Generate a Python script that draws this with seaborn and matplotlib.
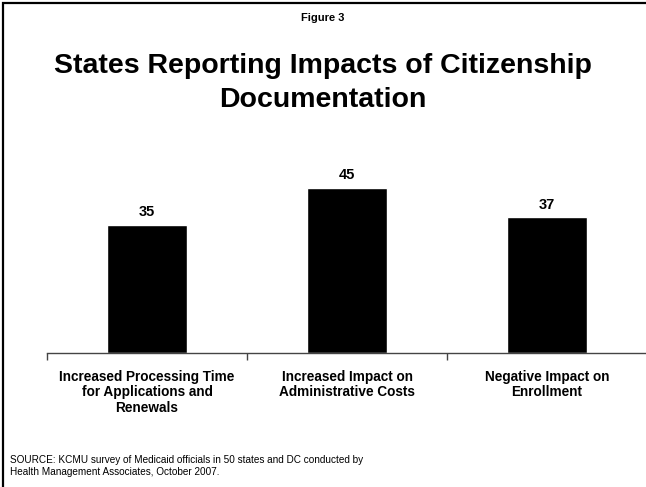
import matplotlib
matplotlib.use("Agg")
import matplotlib.pyplot as plt
import seaborn as sns
import pandas as pd
from matplotlib.patches import Rectangle

# Chart data
categories = [
    "Increased Processing Time\nfor Applications and\nRenewals",
    "Increased Impact on\nAdministrative Costs",
    "Negative Impact on\nEnrollment",
]
values = [35, 45, 37]

figure_label = "Figure 3"
title = "States Reporting Impacts of Citizenship\nDocumentation"
source = ("SOURCE: KCMU survey of Medicaid officials in 50 states and DC conducted by\n"
          "Health Management Associates, October 2007.")

sns.set_theme(style="white")
plt.rcParams["font.family"] = ["Liberation Sans", "DejaVu Sans"]
plt.rcParams["text.color"] = "black"
plt.rcParams["xtick.color"] = "black"

df = pd.DataFrame({"category": categories, "value": values})

fig = plt.figure(figsize=(6.46, 4.87), dpi=100)
ax = fig.add_axes([47 / 646, 134 / 487, 600 / 646, 183.3 / 487])

sns.barplot(data=df, x="category", y="value", color="black", width=0.4,
            saturation=1, ax=ax)
ax.set_xlim(-0.5, 2.5)
ax.set_ylim(0, 50)
ax.bar_label(ax.containers[0], fmt="%d", padding=4, fontsize=10.5,
             fontweight="bold", color="black")

# axis styling
for side in ["top", "right", "left"]:
    ax.spines[side].set_visible(False)
ax.spines["bottom"].set_color("#444444")
ax.spines["bottom"].set_linewidth(1.0)
ax.set_yticks([])
ax.set_xlabel("")
ax.set_ylabel("")
ax.set_xticks([-0.5, 0.5, 1.5, 2.5], minor=True)
ax.tick_params(axis="x", which="minor", bottom=True, length=5, width=1, color="#444444")
ax.tick_params(axis="x", which="major", bottom=False, length=0, pad=12)
ax.set_xticks(range(len(categories)))
ax.set_xticklabels(categories, fontsize=9.8, fontweight="bold", linespacing=1.15,
                   va="top", color="black")

# titles and source
fig.text(0.5, 1 - 18 / 487, figure_label, ha="center", va="center", fontsize=8,
         fontweight="bold")
fig.text(0.5, 1 - 83 / 487, title, ha="center", va="center", fontsize=20.5,
         fontweight="bold", linespacing=1.42)
fig.text(10 / 646, 1 - 466 / 487, source, ha="left", va="center", fontsize=7.2,
         linespacing=1.2)

# slide frame (left and top edges visible)
fig.patches.append(Rectangle((3 / 646, -0.2), 1.5, 1.2 - 3 / 487, transform=fig.transFigure,
                             fill=False, edgecolor="black", linewidth=1.6, figure=fig))

fig.savefig("out.png", dpi=100)
